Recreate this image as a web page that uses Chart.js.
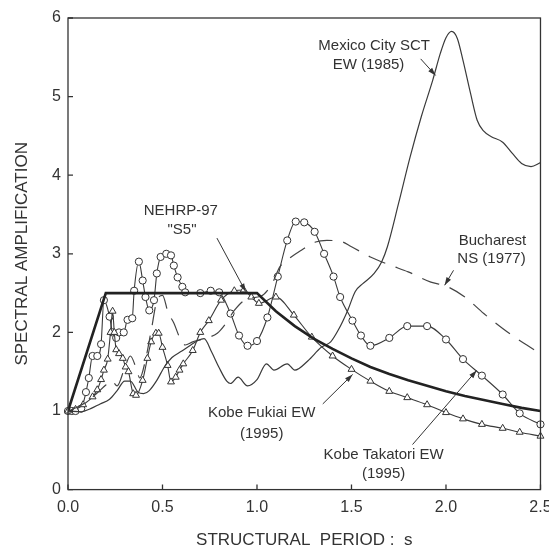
<!DOCTYPE html>
<html>
<head>
<meta charset="utf-8">
<title>Spectral amplification</title>
<script src="https://cdn.jsdelivr.net/npm/chart.js@4.4.1/dist/chart.umd.min.js"></script>
<style>
  html, body { margin: 0; padding: 0; background: #fff; overflow: hidden; }
  #wrap { width: 560px; height: 548px; }
</style>
</head>
<body>
<div id="wrap"><canvas id="spectra" width="560" height="548"></canvas></div>
<script>
// structural period (s) and spectral amplification, one pair of arrays per record
const nehrpT  = [0, 0.2, 1.0, 1.1, 1.2, 1.3, 1.4, 1.5, 1.6, 1.7, 1.8, 1.9, 2.0, 2.1, 2.2, 2.3, 2.4, 2.5];
const nehrpSa = [1.0, 2.5, 2.5, 2.27, 2.08, 1.92, 1.79, 1.67, 1.56, 1.47, 1.39, 1.32, 1.25, 1.19, 1.14, 1.09, 1.04, 1.0];

const mexicoT  = [0, 0.07, 0.12, 0.17, 0.22, 0.26, 0.30, 0.33, 0.37, 0.40, 0.43, 0.47, 0.51, 0.55, 0.60, 0.65, 0.69, 0.72,
                  0.76, 0.80, 0.84, 0.86, 0.90, 0.95, 1.00, 1.05, 1.09, 1.16, 1.20, 1.27, 1.34, 1.39, 1.43, 1.48, 1.52,
                  1.56, 1.62, 1.66, 1.69, 1.75, 1.81, 1.87, 1.93, 1.97, 2.00, 2.03, 2.06, 2.09, 2.13, 2.165, 2.20, 2.24,
                  2.30, 2.35, 2.40, 2.45, 2.50];
const mexicoSa = [1.0, 0.99, 1.03, 1.09, 1.15, 1.26, 1.38, 1.38, 1.24, 1.22, 1.26, 1.39, 1.56, 1.68, 1.76, 1.84, 1.90, 1.92,
                  1.75, 1.55, 1.38, 1.35, 1.43, 1.32, 1.40, 1.60, 1.52, 1.60, 1.52, 1.64, 1.81, 1.88, 2.03, 2.28, 2.52,
                  2.62, 2.75, 2.90, 3.09, 3.65, 4.23, 4.75, 5.21, 5.55, 5.75, 5.83, 5.74, 5.46, 5.04, 4.70, 4.56, 4.49,
                  4.42, 4.28, 4.15, 4.11, 4.16];

const buchT  = [0, 0.05, 0.10, 0.15, 0.20, 0.23, 0.26, 0.30, 0.33, 0.36, 0.38, 0.41, 0.44, 0.47, 0.50, 0.53, 0.56, 0.59,
                0.62, 0.66, 0.72, 0.79, 0.84, 0.88, 0.95, 1.02, 1.08, 1.12, 1.17, 1.23, 1.31, 1.37, 1.44, 1.50, 1.60,
                1.70, 1.80, 1.92, 2.00, 2.10, 2.20, 2.30, 2.40, 2.50];
const buchSa = [1.0, 1.05, 1.12, 1.22, 1.33, 1.39, 1.32, 1.55, 1.70, 1.55, 1.42, 1.65, 2.02, 2.40, 2.47, 2.25, 2.12, 1.94,
                1.84, 1.88, 1.92, 1.99, 2.13, 2.28, 2.43, 2.46, 2.62, 2.83, 2.94, 3.04, 3.15, 3.17, 3.16, 3.09, 2.96,
                2.86, 2.77, 2.64, 2.59, 2.45, 2.24, 2.05, 1.88, 1.73];

const fukiaiT  = [0, 0.04, 0.08, 0.13, 0.155, 0.175, 0.19, 0.21, 0.225, 0.236, 0.245, 0.255, 0.27, 0.29, 0.305, 0.32,
                  0.345, 0.36, 0.395, 0.42, 0.44, 0.465, 0.48, 0.50, 0.527, 0.545, 0.57, 0.59, 0.61, 0.66, 0.70, 0.745,
                  0.81, 0.88, 0.93, 0.97, 1.01, 1.10, 1.195, 1.29, 1.40, 1.50, 1.60, 1.70, 1.795, 1.90, 2.00, 2.09,
                  2.19, 2.30, 2.39, 2.50];
const fukiaiSa = [1.0, 1.02, 1.08, 1.18, 1.27, 1.40, 1.52, 1.66, 2.00, 2.27, 2.00, 1.78, 1.73, 1.67, 1.56, 1.50,
                  1.22, 1.20, 1.39, 1.67, 1.88, 1.99, 1.99, 1.81, 1.58, 1.37, 1.43, 1.52, 1.60, 1.77, 2.00, 2.15,
                  2.41, 2.53, 2.54, 2.45, 2.37, 2.45, 2.22, 1.94, 1.70, 1.53, 1.38, 1.25, 1.17, 1.08, 0.98, 0.90,
                  0.83, 0.78, 0.73, 0.68];

const takatoriT  = [0, 0.02, 0.04, 0.07, 0.095, 0.11, 0.13, 0.155, 0.175, 0.19, 0.22, 0.235, 0.255, 0.27, 0.295, 0.315,
                    0.34, 0.35, 0.375, 0.395, 0.41, 0.43, 0.455, 0.47, 0.49, 0.52, 0.545, 0.56, 0.58, 0.605, 0.62, 0.70,
                    0.755, 0.80, 0.86, 0.905, 0.95, 1.00, 1.055, 1.11, 1.16, 1.205, 1.25, 1.305, 1.355, 1.405, 1.44,
                    1.505, 1.55, 1.60, 1.70, 1.795, 1.90, 2.00, 2.09, 2.19, 2.30, 2.39, 2.50];
const takatoriSa = [1.0, 1.0, 1.0, 1.03, 1.24, 1.42, 1.70, 1.70, 1.85, 2.41, 2.20, 2.00, 1.93, 2.00, 2.00, 2.16,
                    2.18, 2.53, 2.90, 2.66, 2.45, 2.28, 2.41, 2.75, 2.96, 3.00, 2.98, 2.85, 2.70, 2.58, 2.51, 2.50,
                    2.53, 2.51, 2.24, 1.96, 1.83, 1.89, 2.19, 2.71, 3.17, 3.41, 3.40, 3.28, 3.00, 2.71, 2.45,
                    2.15, 1.96, 1.83, 1.93, 2.08, 2.08, 1.91, 1.66, 1.45, 1.21, 0.97, 0.83];

const xTicks = [0, 0.5, 1.0, 1.5, 2.0, 2.5];
const yTicks = [0, 1, 2, 3, 4, 5, 6];

// curve labels, placed in period / amplification units
const noteText = [
    { text: 'Mexico City SCT', x: 1.62, y: 5.64 },
    { text: 'EW (1985)', x: 1.59, y: 5.41 },
    { text: 'Bucharest', x: 2.246, y: 3.16 },
    { text: 'NS (1977)', x: 2.241, y: 2.93 },
    { text: 'NEHRP-97', x: 0.597, y: 3.54 },
    { text: '"S5"', x: 0.603, y: 3.31 },
    { text: 'Kobe Fukiai EW', x: 1.025, y: 0.97 },
    { text: '(1995)', x: 1.025, y: 0.71 },
    { text: 'Kobe Takatori EW', x: 1.67, y: 0.446 },
    { text: '(1995)', x: 1.67, y: 0.20 }
];
// leader arrows: [from, to]
const noteArrows = [
    [[1.866, 5.48], [1.945, 5.27]],
    [[2.04, 2.79], [1.993, 2.60]],
    [[0.788, 3.20], [0.94, 2.52]],
    [[1.348, 1.09], [1.506, 1.465]],
    [[1.823, 0.573], [2.162, 1.516]]
];

const FONT = '"Liberation Sans", Arial, sans-serif';
const INK = '#333';

function toPoints(ts, vals) {
    return ts.map((t, i) => ({ x: t, y: vals[i] }));
}

const frameAndNotes = {
    id: 'frameAndNotes',
    afterDraw(chart) {
        const { ctx, chartArea: a, scales: { x, y } } = chart;
        ctx.save();
        ctx.strokeStyle = INK;
        ctx.lineWidth = 1.3;
        ctx.strokeRect(a.left, a.top, a.right - a.left, a.bottom - a.top);

        // short ticks pointing into the plot
        ctx.beginPath();
        xTicks.forEach(v => {
            const px = x.getPixelForValue(v);
            ctx.moveTo(px, a.bottom);
            ctx.lineTo(px, a.bottom - 5);
        });
        yTicks.forEach(v => {
            const py = y.getPixelForValue(v);
            ctx.moveTo(a.left, py);
            ctx.lineTo(a.left + 5, py);
        });
        ctx.stroke();

        ctx.fillStyle = INK;
        ctx.font = '15px ' + FONT;
        ctx.textAlign = 'center';
        ctx.textBaseline = 'middle';
        noteText.forEach(n => {
            ctx.fillText(n.text, x.getPixelForValue(n.x), y.getPixelForValue(n.y));
        });

        ctx.lineWidth = 1;
        noteArrows.forEach(([from, to]) => {
            const x1 = x.getPixelForValue(from[0]), y1 = y.getPixelForValue(from[1]);
            const x2 = x.getPixelForValue(to[0]), y2 = y.getPixelForValue(to[1]);
            const ang = Math.atan2(y2 - y1, x2 - x1);
            ctx.beginPath();
            ctx.moveTo(x1, y1);
            ctx.lineTo(x2, y2);
            ctx.stroke();
            ctx.beginPath();
            ctx.moveTo(x2, y2);
            ctx.lineTo(x2 - 8 * Math.cos(ang) + 2.6 * Math.sin(ang), y2 - 8 * Math.sin(ang) - 2.6 * Math.cos(ang));
            ctx.lineTo(x2 - 8 * Math.cos(ang) - 2.6 * Math.sin(ang), y2 - 8 * Math.sin(ang) + 2.6 * Math.cos(ang));
            ctx.closePath();
            ctx.fill();
        });
        ctx.restore();
    }
};

const ctx = document.getElementById('spectra');

new Chart(ctx, {
    type: 'line',
    data: {
        datasets: [
            {
                label: 'NEHRP-97 "S5"',
                data: toPoints(nehrpT, nehrpSa),
                borderColor: '#222',
                borderWidth: 2.6,
                pointRadius: 0,
                tension: 0
            },
            {
                label: 'Mexico City SCT EW (1985)',
                data: toPoints(mexicoT, mexicoSa),
                borderColor: '#3a3a3a',
                borderWidth: 1.2,
                pointRadius: 0,
                cubicInterpolationMode: 'monotone'
            },
            {
                label: 'Bucharest NS (1977)',
                data: toPoints(buchT, buchSa),
                borderColor: '#444',
                borderWidth: 1.2,
                borderDash: [18, 11],
                pointRadius: 0,
                cubicInterpolationMode: 'monotone'
            },
            {
                label: 'Kobe Fukiai EW (1995)',
                data: toPoints(fukiaiT, fukiaiSa),
                borderColor: '#3a3a3a',
                borderWidth: 1.1,
                pointStyle: 'triangle',
                pointRadius: 4,
                pointBackgroundColor: '#fff',
                pointBorderColor: '#333',
                pointBorderWidth: 1,
                cubicInterpolationMode: 'monotone',
                clip: false
            },
            {
                label: 'Kobe Takatori EW (1995)',
                data: toPoints(takatoriT, takatoriSa),
                borderColor: '#3a3a3a',
                borderWidth: 1.1,
                pointStyle: 'circle',
                pointRadius: 3.6,
                pointBackgroundColor: '#fff',
                pointBorderColor: '#333',
                pointBorderWidth: 1,
                cubicInterpolationMode: 'monotone',
                clip: false
            }
        ]
    },
    options: {
        responsive: false,
        animation: false,
        layout: {
            padding: { left: 0, top: 18, right: 9, bottom: 0 }
        },
        plugins: {
            legend: { display: false },
            tooltip: { enabled: false }
        },
        scales: {
            x: {
                type: 'linear',
                min: 0,
                max: 2.5,
                grid: { display: false, drawTicks: false },
                border: { display: false },
                ticks: {
                    stepSize: 0.5,
                    padding: 8.4,
                    color: INK,
                    font: { family: FONT, size: 16 },
                    callback: v => v.toFixed(1)
                },
                title: {
                    display: true,
                    text: 'STRUCTURAL  PERIOD :  s',
                    color: INK,
                    font: { family: FONT, size: 17 },
                    padding: { top: 5, bottom: -3 }
                }
            },
            y: {
                min: 0,
                max: 6,
                grid: { display: false, drawTicks: false },
                border: { display: false },
                ticks: {
                    stepSize: 1,
                    padding: 7,
                    color: INK,
                    font: { family: FONT, size: 16 }
                },
                title: {
                    display: true,
                    text: 'SPECTRAL AMPLIFICATION',
                    color: INK,
                    font: { family: FONT, size: 17 },
                    padding: { top: 11.8, bottom: 12.9 }
                }
            }
        }
    },
    plugins: [frameAndNotes]
});
</script>
</body>
</html>
